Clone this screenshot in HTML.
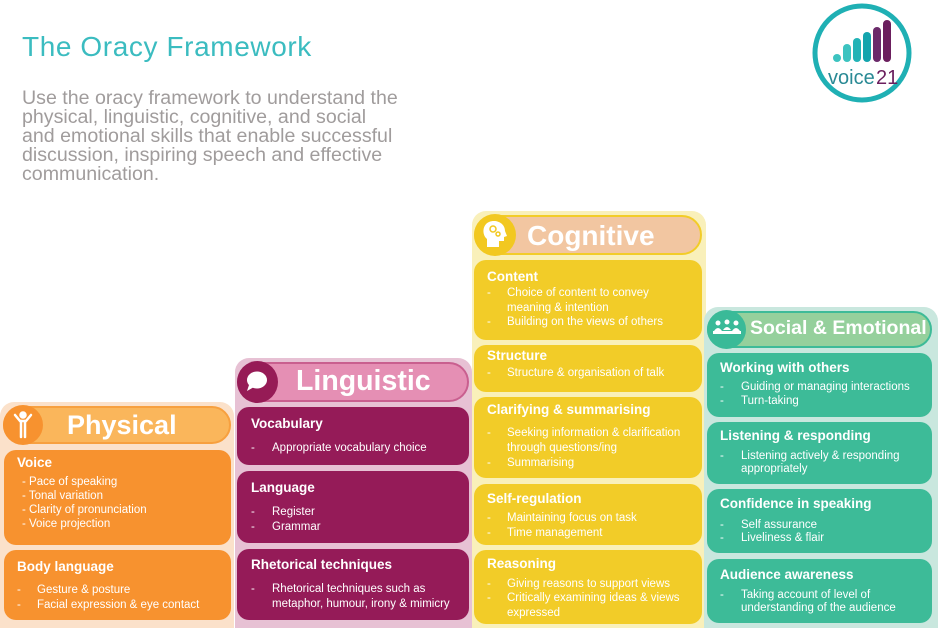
<!DOCTYPE html>
<html><head><meta charset="utf-8"><style>
*{margin:0;padding:0;box-sizing:border-box}
body{width:940px;height:628px;background:#fff;position:relative;overflow:hidden;font-family:"Liberation Sans",Arial,sans-serif;color:#fff}
div{position:absolute}
.col{border-radius:14px 14px 0 0}
.pill{border-radius:22px;border:2px solid}
.ic{border-radius:50%}
.card{border-radius:12px}
.ht{font-weight:bold;white-space:nowrap}
.t{font-weight:bold;font-size:13.5px;line-height:16px;white-space:nowrap}
.b{font-size:11.5px;line-height:14px;white-space:nowrap}
</style></head><body>
<div style="left:22px;top:30px;font-size:28px;letter-spacing:0.6px;color:#3bbcc0;line-height:34px;white-space:nowrap">The Oracy Framework</div>
<div style="left:22px;top:89px;font-size:19.6px;color:#a09c9c;line-height:19px;width:430px;white-space:nowrap">Use the oracy framework to understand the<br>physical, linguistic, cognitive, and social<br>and emotional skills that enable successful<br>discussion, inspiring speech and effective<br>communication.</div>

<!-- logo -->
<svg style="position:absolute;left:808px;top:2px" width="110" height="104">
<circle cx="54" cy="51" r="47" fill="#fff" stroke="#1fb0b4" stroke-width="5"/>
<circle cx="29" cy="56" r="4" fill="#3cc3c0"/>
<rect x="35" y="42" width="8" height="18" rx="4" fill="#3cc3c0"/>
<rect x="45" y="36" width="8" height="24" rx="4" fill="#22b3b6"/>
<rect x="55" y="30" width="8" height="30" rx="4" fill="#14a4ad"/>
<rect x="65" y="25" width="8" height="35" rx="4" fill="#6b2a6a"/>
<rect x="75" y="18" width="8" height="42" rx="4" fill="#6b1f5e"/>
<text x="20" y="82" font-family="Liberation Sans,sans-serif" font-size="20" fill="#2a8a95">voice</text>
<text x="68" y="82" font-family="Liberation Sans,sans-serif" font-size="20" fill="#6b1f5e">21</text>
</svg>

<!-- Physical -->
<div class="col" style="left:0;top:402px;width:234px;height:226px;background:#fbe1ca"></div>
<div class="pill" style="left:3px;top:406px;width:228px;height:38px;background:#fab65b;border-color:#f7a03f"></div>
<div class="ic" style="left:3px;top:405px;width:40px;height:40px;background:#f7922f"></div>
<svg style="position:absolute;left:12px;top:411px" width="22" height="28"><g stroke="#fff" stroke-width="2.5" fill="none" stroke-linecap="round"><circle cx="11" cy="4" r="2.5" fill="#fff"/><path d="M3 4 L8 10 L14 10 L19 4"/><path d="M9 10 V26 M13 10 V26"/></g></svg>
<div class="ht" style="left:67px;top:408px;font-size:27px;line-height:34px">Physical</div>
<div class="card" style="left:4px;top:450px;width:227px;height:95px;background:#f7922f"></div>
<div class="card" style="left:4px;top:550px;width:227px;height:70px;background:#f7922f"></div>
<div class="t" style="left:17px;top:455px">Voice</div>
<div class="b" style="left:22px;top:475px">- Pace of speaking</div>
<div class="b" style="left:22px;top:489px">- Tonal variation</div>
<div class="b" style="left:22px;top:503px">- Clarity of pronunciation</div>
<div class="b" style="left:22px;top:517px">- Voice projection</div>
<div class="t" style="left:17px;top:559px">Body language</div>
<div class="b" style="left:17px;top:583px">-</div><div class="b" style="left:37px;top:583px">Gesture &amp; posture</div>
<div class="b" style="left:17px;top:598px">-</div><div class="b" style="left:37px;top:598px">Facial expression &amp; eye contact</div>

<!-- Linguistic -->
<div class="col" style="left:235px;top:358px;width:237px;height:270px;background:#e7c1d4"></div>
<div class="pill" style="left:237px;top:362px;width:232px;height:40px;background:#e58fb4;border-color:#c95f8f"></div>
<div class="ic" style="left:237px;top:361px;width:41px;height:42px;background:#961b56"></div>
<svg style="position:absolute;left:244px;top:369px" width="28" height="26"><ellipse cx="13" cy="11" rx="10" ry="8.5" fill="#fff"/><path d="M5 16 L3 22 L10 18Z" fill="#fff"/></svg>
<div class="ht" style="left:296px;top:363px;font-size:28.5px;line-height:36px">Linguistic</div>
<div class="card" style="left:237px;top:407px;width:232px;height:58px;background:#951b58"></div>
<div class="card" style="left:237px;top:471px;width:232px;height:72px;background:#951b58"></div>
<div class="card" style="left:237px;top:549px;width:232px;height:71px;background:#951b58"></div>
<div class="t" style="left:251px;top:416px">Vocabulary</div>
<div class="b" style="left:251px;top:441px">-</div><div class="b" style="left:272px;top:441px">Appropriate vocabulary choice</div>
<div class="t" style="left:251px;top:480px">Language</div>
<div class="b" style="left:251px;top:505px">-</div><div class="b" style="left:272px;top:505px">Register</div>
<div class="b" style="left:251px;top:520px">-</div><div class="b" style="left:272px;top:520px">Grammar</div>
<div class="t" style="left:251px;top:557px">Rhetorical techniques</div>
<div class="b" style="left:251px;top:582px">-</div><div class="b" style="left:272px;top:582px">Rhetorical techniques such as</div>
<div class="b" style="left:272px;top:597px">metaphor, humour, irony &amp; mimicry</div>

<!-- Cognitive -->
<div class="col" style="left:472px;top:211px;width:234px;height:417px;background:#f9f0ba"></div>
<div class="pill" style="left:474px;top:215px;width:228px;height:40px;background:#f2c6a1;border-color:#f2cc28"></div>
<div class="ic" style="left:474px;top:214px;width:42px;height:42px;background:#f2c820"></div>
<svg style="position:absolute;left:481px;top:219px" width="28" height="32"><path d="M6 28 V20 C1 16 1 6 8 3 C15 0 24 4 24 12 L26 17 L23 18 V22 H18 V28Z" fill="#fff"/><circle cx="12" cy="10" r="3" fill="none" stroke="#f2c820" stroke-width="1.5"/><circle cx="17" cy="15" r="2" fill="none" stroke="#f2c820" stroke-width="1.5"/></svg>
<div class="ht" style="left:527px;top:217px;font-size:28px;line-height:37px">Cognitive</div>
<div class="card" style="left:474px;top:260px;width:228px;height:80px;background:#f2cc28"></div>
<div class="card" style="left:474px;top:345px;width:228px;height:47px;background:#f2cc28"></div>
<div class="card" style="left:474px;top:397px;width:228px;height:81px;background:#f2cc28"></div>
<div class="card" style="left:474px;top:484px;width:228px;height:61px;background:#f2cc28"></div>
<div class="card" style="left:474px;top:550px;width:228px;height:74px;background:#f2cc28"></div>
<div class="t" style="left:487px;top:269px">Content</div>
<div class="b" style="left:487px;top:286px">-</div><div class="b" style="left:507px;top:286px">Choice of content to convey</div>
<div class="b" style="left:507px;top:301px">meaning &amp; intention</div>
<div class="b" style="left:487px;top:315px">-</div><div class="b" style="left:507px;top:315px">Building on the views of others</div>
<div class="t" style="left:487px;top:348px">Structure</div>
<div class="b" style="left:487px;top:366px">-</div><div class="b" style="left:507px;top:366px">Structure &amp; organisation of talk</div>
<div class="t" style="left:487px;top:402px">Clarifying &amp; summarising</div>
<div class="b" style="left:487px;top:426px">-</div><div class="b" style="left:507px;top:426px">Seeking information &amp; clarification</div>
<div class="b" style="left:507px;top:441px">through questions/ing</div>
<div class="b" style="left:487px;top:456px">-</div><div class="b" style="left:507px;top:456px">Summarising</div>
<div class="t" style="left:487px;top:491px">Self-regulation</div>
<div class="b" style="left:487px;top:511px">-</div><div class="b" style="left:507px;top:511px">Maintaining focus on task</div>
<div class="b" style="left:487px;top:526px">-</div><div class="b" style="left:507px;top:526px">Time management</div>
<div class="t" style="left:487px;top:556px">Reasoning</div>
<div class="b" style="left:487px;top:577px">-</div><div class="b" style="left:507px;top:577px">Giving reasons to support views</div>
<div class="b" style="left:487px;top:591px">-</div><div class="b" style="left:507px;top:591px">Critically examining ideas &amp; views</div>
<div class="b" style="left:507px;top:606px">expressed</div>

<!-- Social -->
<div class="col" style="left:704px;top:307px;width:234px;height:321px;background:#c9e7de"></div>
<div class="pill" style="left:707px;top:311px;width:225px;height:37px;background:#95d09c;border-color:#3dbb98"></div>
<div class="ic" style="left:707px;top:310px;width:39px;height:39px;background:#3aba98"></div>
<svg style="position:absolute;left:712px;top:318px" width="30" height="22"><g fill="#fff"><circle cx="6" cy="5" r="2.5"/><circle cx="15" cy="4" r="2.5"/><circle cx="24" cy="5" r="2.5"/><path d="M2 13 Q6 7 10 13Z M11 12 Q15 6 19 12Z M20 13 Q24 7 28 13Z"/><rect x="1" y="13" width="28" height="3"/></g></svg>
<div class="ht" style="left:750px;top:316px;font-size:19.5px;line-height:24px">Social &amp; Emotional</div>
<div class="card" style="left:707px;top:353px;width:225px;height:64px;background:#3dbb98"></div>
<div class="card" style="left:707px;top:422px;width:225px;height:62px;background:#3dbb98"></div>
<div class="card" style="left:707px;top:489px;width:225px;height:64px;background:#3dbb98"></div>
<div class="card" style="left:707px;top:559px;width:225px;height:64px;background:#3dbb98"></div>
<div class="t" style="left:720px;top:360px">Working with others</div>
<div class="b" style="left:720px;top:380px">-</div><div class="b" style="left:741px;top:380px">Guiding or managing interactions</div>
<div class="b" style="left:720px;top:394px">-</div><div class="b" style="left:741px;top:394px">Turn-taking</div>
<div class="t" style="left:720px;top:428px">Listening &amp; responding</div>
<div class="b" style="left:720px;top:449px">-</div><div class="b" style="left:741px;top:449px">Listening actively &amp; responding</div>
<div class="b" style="left:741px;top:462px">appropriately</div>
<div class="t" style="left:720px;top:496px">Confidence in speaking</div>
<div class="b" style="left:720px;top:518px">-</div><div class="b" style="left:741px;top:518px">Self assurance</div>
<div class="b" style="left:720px;top:531px">-</div><div class="b" style="left:741px;top:531px">Liveliness &amp; flair</div>
<div class="t" style="left:720px;top:567px">Audience awareness</div>
<div class="b" style="left:720px;top:588px">-</div><div class="b" style="left:741px;top:588px">Taking account of level of</div>
<div class="b" style="left:741px;top:601px">understanding of the audience</div>
</body></html>
